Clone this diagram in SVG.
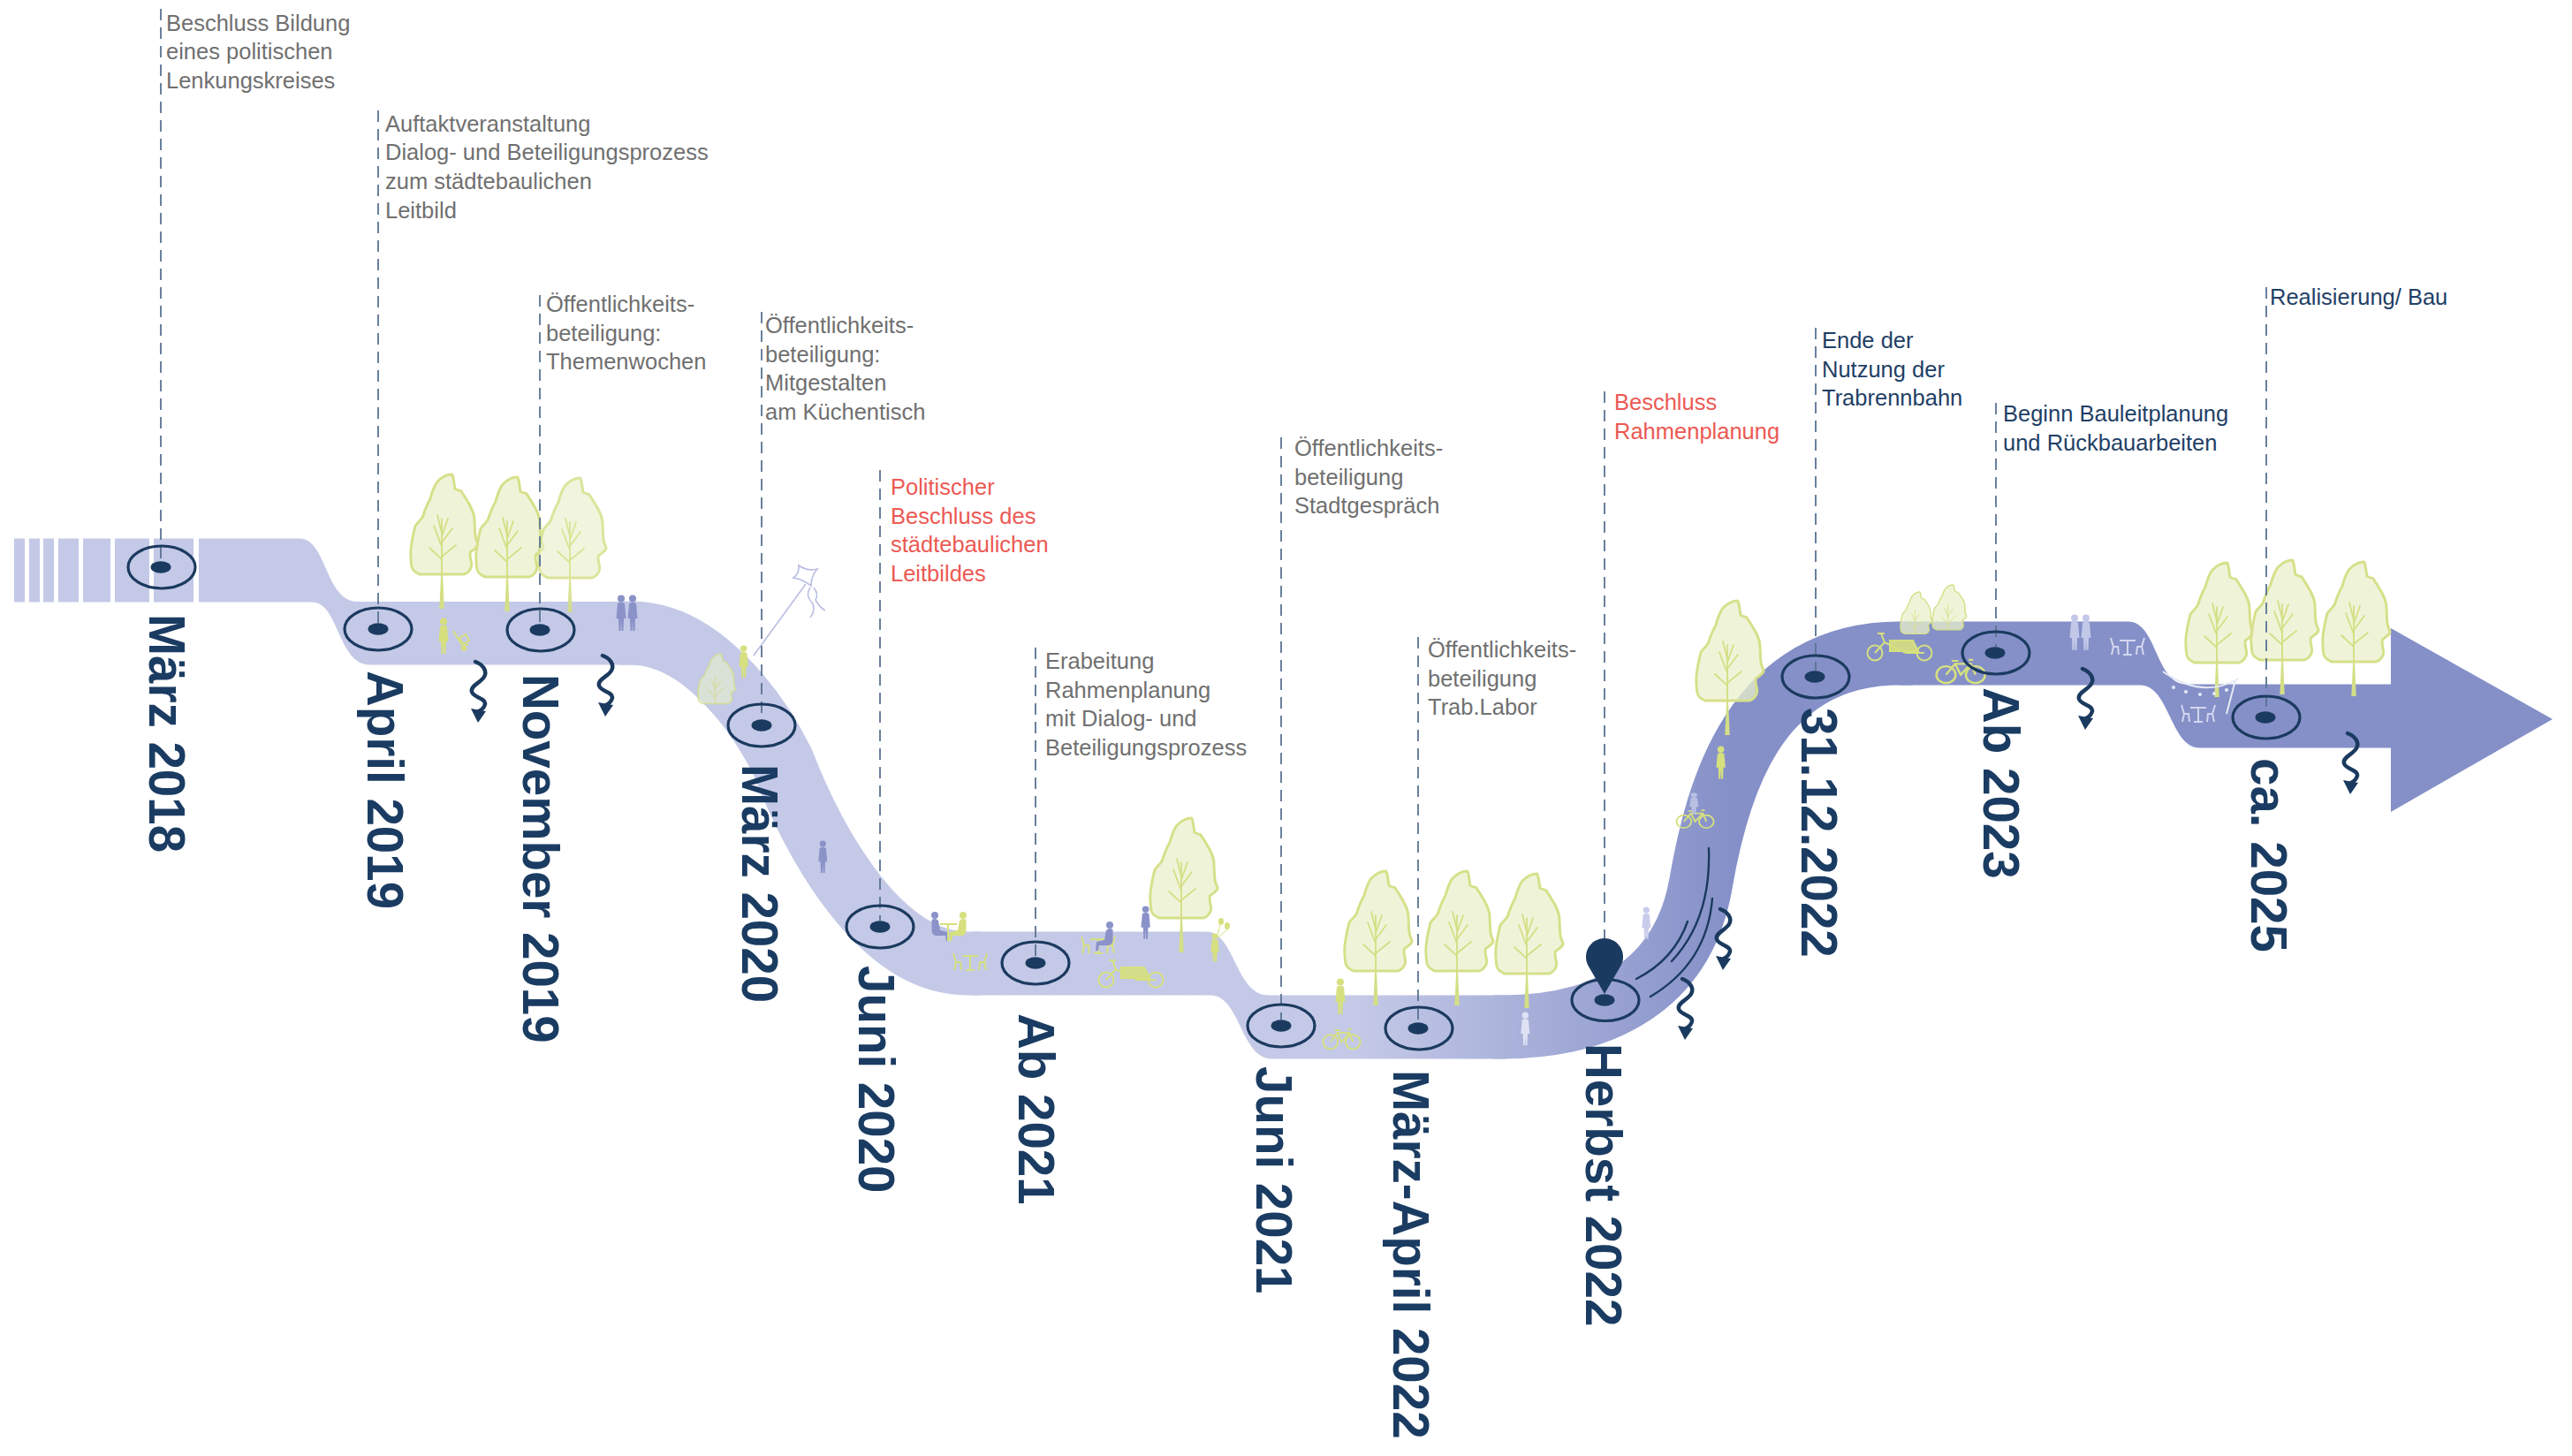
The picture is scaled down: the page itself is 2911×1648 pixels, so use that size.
<svg xmlns="http://www.w3.org/2000/svg" width="2911" height="1648" viewBox="0 0 2911 1648">
<style>
  .lead{fill:none;stroke:#5a7392;stroke-width:1.8;stroke-dasharray:13 8}
  .ring{fill:none;stroke:#1b3a5f;stroke-width:3.2}
  .dot{fill:#1b3a5f}
  .date{font-family:"Liberation Sans",Arial,Helvetica,sans-serif;font-weight:700;font-size:56.5px;fill:#1b3c62}
  .note{font-family:"Liberation Sans",Arial,Helvetica,sans-serif;font-size:25.5px}
  .grey{fill:#707070}
  .red{fill:#ec5953}
  .navy{fill:#1f3f66}
  .wave{fill:none;stroke:#1b3a5f;stroke-width:4.5;stroke-linecap:round}
  .swoosh{fill:none;stroke:#1b3a5f;stroke-width:2.4;stroke-linecap:round}
  .canopy{fill:#e9f0cc;fill-opacity:0.75;stroke:#d6e08a;stroke-width:3;stroke-linejoin:round}
  .branch{fill:none;stroke:#d4df85;stroke-width:1.8;stroke-linecap:round}
  .bandfill{fill:url(#bandGrad)}
  .bandstroke{fill:none;stroke:url(#bandGrad);stroke-width:72}
</style>
<defs>
  <linearGradient id="bandGrad" gradientUnits="userSpaceOnUse" x1="1540" y1="0" x2="1960" y2="0">
    <stop offset="0" stop-color="#c4c9e7"/>
    <stop offset="1" stop-color="#8590c8"/>
  </linearGradient>
  <!-- poplar-like tree: canopy 77 wide, trunk base at y=152 -->
  <path id="crown" d="M46.7,0 C49,5 49,12 50,16.3 C53,18 55,18 56.7,18.7 C61,25 64,30 66.7,34.7 C69,39 71,44 71.7,48 C72.5,56 72,64 73.3,71.3 C74,75 76,77 76,79.7 C75,84 70,85 67.3,88 C66,94 69,98 68.7,103 C68,108 64,112 60,113 L10,113 C5,111 1,107 0.7,103 C0,97 -0.5,91 0,85 C1,75 3,66 5,58.3 C8,54 11,52 13.3,48.3 C16,40 18,34 21.7,28.3 C24,20 26,13 30,8.3 C35,3 41,0 46.7,0 Z"/>
  <g id="tree">
    <use href="#crown" class="canopy"/>
    <path d="M32.3,152 L37.7,152 L36,112 L35.2,58 L34.2,112 Z" fill="#d4df85"/>
    <path class="branch" d="M35,112 V50 M35,96 L21,83 M35,93 L51,80 M35,82 L26,58 M35,77 L47,61 M35,66 L30,46 M35,70 L42,50"/>
  </g>
  <g id="bush">
    <use href="#crown" class="canopy"/>
    <path class="branch" d="M35,113 V50 M35,100 L20,80 M35,96 L52,78 M35,82 L27,58 M35,78 L46,60"/>
  </g>
  <!-- figures -->
  <g id="person"><circle cx="7" cy="4.5" r="4"/><path d="M3,10 Q7,7.5 11,10 L12.5,27 L10,27 L9.5,41 L7.5,41 L7,29 L6.5,41 L4.5,41 L4,27 L1.5,27 Z"/></g>
  <g id="sitter"><circle cx="6" cy="4" r="4"/><path d="M2.5,9 Q7,6.5 10,10 L12,21 L21,23 L22,33 L19,33 L18,27 L7,27 Q2.5,26 2.5,20 Z"/></g>
  <g id="bike" fill="none" stroke-width="2"><circle cx="9" cy="14" r="8.5"/><circle cx="35" cy="14" r="8.5"/><path d="M9,14 L17,3 L31,3 L35,14 M17,3 L22,14 L31,3 M14,0 H20 M29,-1 L33,-1"/></g>
  <g id="cargo" stroke-width="2"><circle cx="9" cy="24" r="8.5" fill="none"/><circle cx="65" cy="24" r="8.5" fill="none"/><path d="M9,24 L20,12 L44,24 M20,12 L16,2 M12,2 H20 M44,24 L65,24" fill="none"/><path d="M26,10 L52,10 L58,22 L26,22 Z" fill-opacity="0.9"/></g>
  <g id="cafe" fill="none" stroke-width="2"><path d="M12,6 H30 M21,6 V22 M16,22 H26 M2,3 L5,13 H10 L11,22 M5,13 L3,22 M40,3 L37,13 H32 L31,22 M37,13 L39,22"/></g>
  <!-- squiggle arrow pointing down -->
  <g id="wiggle"><path class="wave" d="M0,0 C8,3 14,10 10,17 C6,24 -6,27 -4,34 C-2,41 12,41 11,48 C10,52 6,55 4,56"/><path d="M-5,53 L12,56 L3,69 Z" fill="#1b3a5f"/></g>
</defs>

<rect width="2911" height="1648" fill="#ffffff"/>

<!-- timeline band -->
<g id="connectors">
  <g fill="#c4c9e7">
    <rect x="16" y="609.5" width="12" height="72"/>
    <rect x="33" y="609.5" width="12" height="72"/>
    <rect x="49" y="609.5" width="12" height="72"/>
    <rect x="66" y="609.5" width="23" height="72"/>
    <rect x="94" y="609.5" width="31" height="72"/>
    <rect x="130" y="609.5" width="39" height="72"/>
    <rect x="174" y="609.5" width="45" height="72"/>
  </g>
  <!-- straight runs with their steps -->
  <path class="bandfill" d="M225,609.5 H339 C370,609.5 368,681 405,681 H722 V752.5 H419 C382,752.5 384,681.5 353,681.5 H225 Z"/>
  <path class="bandfill" d="M1100,1054.5 H1365 C1398,1054.5 1398,1126.5 1436,1126.5 H1705 V1198.5 H1440 C1404,1198.5 1404,1126.5 1370,1126.5 H1100 Z"/>
  <path class="bandfill" d="M2150,703.5 H2409 C2441,703.5 2440,774.5 2474,774.5 H2706 V711 L2889,814 L2706,919 V846.5 H2490 C2456,846.5 2456,775.5 2422,775.5 H2150 Z"/>
  <!-- sweeping bends -->
  <path class="bandstroke" d="M700,716.5 H715 C790,716.5 855,800 886,863 C910,925 985,1090.5 1095,1090.5 H1110"/>
  <path class="bandstroke" d="M1690,1162.5 H1700 C1815,1162.5 1905,1115 1925,1000 C1943,895 1985,739.5 2150,739.5 H2165"/>
</g>

<!-- scenery: trees, people, bikes -->
<g id="scenery">
  <use href="#tree" transform="translate(465,537)"/>
  <use href="#tree" transform="translate(539,540)"/>
  <use href="#tree" transform="translate(610,541)" opacity="0.85"/>
  <use href="#tree" transform="translate(1302,926)"/>
  <use href="#tree" transform="translate(1522,986)"/>
  <use href="#tree" transform="translate(1614,986)"/>
  <use href="#tree" transform="translate(1693,989)"/>
  <use href="#tree" transform="translate(1920,680)"/>
  <use href="#tree" transform="translate(2474,637)"/>
  <use href="#tree" transform="translate(2548,634)"/>
  <use href="#tree" transform="translate(2629,636)"/>
  <use href="#bush" transform="translate(2151,670) scale(0.47,0.42)"/>
  <use href="#bush" transform="translate(2187,662) scale(0.51,0.45)"/>
  <use href="#bush" transform="translate(790,740) scale(0.56,0.5)" opacity="0.8"/>

  <!-- April / November 2019 -->
  <use href="#person" fill="#d6e07f" transform="translate(495,699)"/>
  <g fill="none" stroke="#d6e07f" stroke-width="2"><path d="M513,714 L524,732 L530,729 M520,722 l7,-4 l4,7 l-7,4 z"/><circle cx="525" cy="734" r="2" fill="#d6e07f"/></g>
  <use href="#person" fill="#8a92c8" transform="translate(696,673)"/>
  <use href="#person" fill="#8a92c8" transform="translate(709,673)"/>

  <!-- März 2020 -->
  <use href="#person" fill="#d6e07f" transform="translate(835,730) scale(0.95,0.9)"/>
  <g fill="none" stroke="#b8bee2" stroke-width="1.6">
    <path d="M853,742 L912,661"/>
    <path d="M898,654 Q905,649 904,640 Q914,647 925,644 Q918,652 918,663 Q909,656 898,654 Z"/>
    <path d="M917,665 q-6,9 2,17 q5,8 -2,17 M921,665 q6,8 2,14 q5,9 11,12"/>
  </g>
  <use href="#person" fill="#8a92c8" transform="translate(925,951) scale(0.9)"/>

  <!-- Juni 2020 / Ab 2021 -->
  <use href="#sitter" fill="#8a92c8" transform="translate(1052,1032)"/>
  <use href="#sitter" fill="#d6e07f" transform="translate(1096,1032) scale(-1,1)"/>
  <path d="M1064,1046 H1083 M1073,1046 V1065" stroke="#d6e07f" stroke-width="2" fill="none"/>
  <use href="#cafe" stroke="#d6e07f" transform="translate(1077,1076)"/>
  <use href="#cafe" stroke="#d6e07f" transform="translate(1222,1057)"/>
  <use href="#sitter" fill="#8a92c8" transform="translate(1262,1043) scale(-1,1)"/>
  <use href="#person" fill="#8a92c8" transform="translate(1290,1025) scale(0.95,0.92)"/>
  <use href="#cargo" stroke="#d6e07f" fill="#d6e07f" transform="translate(1243,1085)"/>
  <use href="#person" fill="#d6e07f" transform="translate(1369,1056) scale(0.85,0.8)"/>
  <g fill="#d6e07f"><ellipse cx="1382" cy="1043" rx="3" ry="4"/><ellipse cx="1389" cy="1048" rx="3" ry="4"/><path d="M1381,1047 L1377,1062 M1389,1052 L1378,1062" stroke="#d6e07f" stroke-width="1"/></g>

  <!-- Juni 2021 / Herbst 2022 -->
  <use href="#person" fill="#d6e07f" transform="translate(1510,1107)"/>
  <use href="#bike" stroke="#d6e07f" transform="translate(1497,1166) scale(0.98,0.95)"/>
  <use href="#person" fill="#dfe2f3" transform="translate(1720,1145) scale(0.9,0.93)"/>
  <use href="#person" fill="#c9cdeb" transform="translate(1857,1026) scale(0.9)"/>
  <use href="#person" fill="#d6e07f" transform="translate(1941,844) scale(0.95,0.92)"/>
  <use href="#bike" stroke="#d6e07f" transform="translate(1897,918) scale(0.98,0.85)"/>
  <use href="#person" fill="#b9c0e4" transform="translate(1911,897) scale(0.9,0.6)"/>

  <!-- 2023 / 2025 -->
  <use href="#cargo" stroke="#d6e07f" fill="#d6e07f" transform="translate(2113,715)"/>
  <use href="#bike" stroke="#d6e07f" transform="translate(2191,748) scale(1.28,1.12)"/>
  <use href="#person" fill="#c2c8e8" transform="translate(2341,695)"/>
  <use href="#person" fill="#c2c8e8" transform="translate(2354,695)"/>
  <use href="#cafe" stroke="#d3d7ef" transform="translate(2387,719)"/>
  <g fill="none" stroke="#e6e9f6" stroke-width="2"><path d="M2448,760 Q2492,792 2534,768"/><path d="M2530,770 L2520,808"/></g>
  <g fill="#e6e9f6"><circle cx="2460" cy="778" r="2"/><circle cx="2474" cy="783" r="2"/><circle cx="2490" cy="786" r="2"/><circle cx="2506" cy="785" r="2"/><circle cx="2520" cy="781" r="2"/></g>
  <use href="#cafe" stroke="#d3d7ef" transform="translate(2467,795)"/>
</g>

<!-- squiggle arrows and motion strokes -->
<g id="marks">
  <use href="#wiggle" transform="translate(538,749)"/>
  <use href="#wiggle" transform="translate(682,742)"/>
  <use href="#wiggle" transform="translate(1947,1029)"/>
  <use href="#wiggle" transform="translate(1904,1108)"/>
  <use href="#wiggle" transform="translate(2357,757)"/>
  <use href="#wiggle" transform="translate(2657,830)"/>
  <path class="swoosh" d="M1852,1108 Q1895,1086 1910,1043"/>
  <path class="swoosh" d="M1892,1088 Q1937,1040 1934,960"/>
  <path class="swoosh" d="M1868,1128 Q1932,1090 1938,1017"/>
</g>

<!-- milestones -->
<g id="m-2018-03">
  <line class="lead" x1="182" y1="10" x2="182" y2="635"/>
  <ellipse class="ring" cx="183" cy="642" rx="38" ry="24"/>
  <ellipse class="dot" cx="182" cy="642" rx="11.5" ry="6.8"/>
  <text class="date" transform="translate(169,695) rotate(90)">März 2018</text>
  <text class="note grey"><tspan x="188" y="34.5">Beschluss Bildung</tspan><tspan x="188" y="67.2">eines politischen</tspan><tspan x="188" y="99.9">Lenkungskreises</tspan></text>
</g>
<g id="m-2019-04">
  <line class="lead" x1="428" y1="125" x2="428" y2="705"/>
  <ellipse class="ring" cx="428" cy="712" rx="38" ry="24"/>
  <ellipse class="dot" cx="428" cy="712" rx="11.5" ry="6.8"/>
  <text class="date" transform="translate(416,759) rotate(90)">April 2019</text>
  <text class="note grey"><tspan x="436" y="148.5">Auftaktveranstaltung</tspan><tspan x="436" y="181.2">Dialog- und Beteiligungsprozess</tspan><tspan x="436" y="213.9">zum städtebaulichen</tspan><tspan x="436" y="246.6">Leitbild</tspan></text>
</g>
<g id="m-2019-11">
  <line class="lead" x1="611" y1="334" x2="611" y2="706"/>
  <ellipse class="ring" cx="612" cy="713" rx="38" ry="24"/>
  <ellipse class="dot" cx="611" cy="713" rx="11.5" ry="6.8"/>
  <text class="date" transform="translate(592,763) rotate(90)">November 2019</text>
  <text class="note grey"><tspan x="618" y="353">Öffentlichkeits-</tspan><tspan x="618" y="385.7">beteiligung:</tspan><tspan x="618" y="418.4">Themenwochen</tspan></text>
</g>
<g id="m-2020-03">
  <line class="lead" x1="862" y1="353" x2="862" y2="814"/>
  <ellipse class="ring" cx="862" cy="821" rx="38" ry="24"/>
  <ellipse class="dot" cx="862" cy="821" rx="11.5" ry="6.8"/>
  <text class="date" transform="translate(840,865) rotate(90)">März 2020</text>
  <text class="note grey"><tspan x="866" y="377">Öffentlichkeits-</tspan><tspan x="866" y="409.7">beteiligung:</tspan><tspan x="866" y="442.4">Mitgestalten</tspan><tspan x="866" y="475.1">am Küchentisch</tspan></text>
</g>
<g id="m-2020-06">
  <line class="lead" x1="996" y1="532" x2="996" y2="1042"/>
  <ellipse class="ring" cx="996" cy="1049" rx="38" ry="24"/>
  <ellipse class="dot" cx="996" cy="1049" rx="11.5" ry="6.8"/>
  <text class="date" transform="translate(972,1093) rotate(90)">Juni 2020</text>
  <text class="note red"><tspan x="1008" y="560">Politischer</tspan><tspan x="1008" y="592.7">Beschluss des</tspan><tspan x="1008" y="625.4">städtebaulichen</tspan><tspan x="1008" y="658.1">Leitbildes</tspan></text>
</g>
<g id="m-2021-ab">
  <line class="lead" x1="1172" y1="733" x2="1172" y2="1083"/>
  <ellipse class="ring" cx="1172" cy="1090" rx="38" ry="24"/>
  <ellipse class="dot" cx="1172" cy="1090" rx="11.5" ry="6.8"/>
  <text class="date" transform="translate(1153,1147) rotate(90)">Ab 2021</text>
  <text class="note grey"><tspan x="1183" y="757">Erabeitung</tspan><tspan x="1183" y="789.7">Rahmenplanung</tspan><tspan x="1183" y="822.4">mit Dialog- und</tspan><tspan x="1183" y="855.1">Beteiligungsprozess</tspan></text>
</g>
<g id="m-2021-06">
  <line class="lead" x1="1450" y1="495" x2="1450" y2="1154"/>
  <ellipse class="ring" cx="1450" cy="1161" rx="38" ry="24"/>
  <ellipse class="dot" cx="1450" cy="1161" rx="11.5" ry="6.8"/>
  <text class="date" transform="translate(1422,1207) rotate(90)">Juni 2021</text>
  <text class="note grey"><tspan x="1465" y="516">Öffentlichkeits-</tspan><tspan x="1465" y="548.7">beteiligung</tspan><tspan x="1465" y="581.4">Stadtgespräch</tspan></text>
</g>
<g id="m-2022-03">
  <line class="lead" x1="1605" y1="721" x2="1605" y2="1157"/>
  <ellipse class="ring" cx="1606" cy="1164" rx="38" ry="24"/>
  <ellipse class="dot" cx="1605" cy="1164" rx="11.5" ry="6.8"/>
  <text class="date" transform="translate(1577,1211) rotate(90)">März-April 2022</text>
  <text class="note grey"><tspan x="1616" y="744">Öffentlichkeits-</tspan><tspan x="1616" y="776.7">beteiligung</tspan><tspan x="1616" y="809.4">Trab.Labor</tspan></text>
</g>
<g id="m-2022-herbst">
  <line class="lead" x1="1816" y1="443" x2="1816" y2="1062"/>
  <ellipse class="ring" cx="1817" cy="1132" rx="38" ry="23.5"/>
  <ellipse class="dot" cx="1816" cy="1132" rx="11.5" ry="6.8"/>
  <path d="M1816,1125 L1797.8,1093.5 A21,21 0 1 1 1834.2,1093.5 Z" fill="#1b3a5f"/>
  <text class="date" transform="translate(1795,1181) rotate(90)">Herbst 2022</text>
  <text class="note red"><tspan x="1827" y="464">Beschluss</tspan><tspan x="1827" y="496.7">Rahmenplanung</tspan></text>
</g>
<g id="m-2022-12">
  <line class="lead" x1="2055" y1="371" x2="2055" y2="759"/>
  <ellipse class="ring" cx="2055" cy="766" rx="38" ry="24"/>
  <ellipse class="dot" cx="2054" cy="766" rx="11.5" ry="6.8"/>
  <text class="date" transform="translate(2039,801) rotate(90)">31.12.2022</text>
  <text class="note navy"><tspan x="2062" y="394">Ende der</tspan><tspan x="2062" y="426.7">Nutzung der</tspan><tspan x="2062" y="459.4">Trabrennbahn</tspan></text>
</g>
<g id="m-2023-ab">
  <line class="lead" x1="2259" y1="456" x2="2259" y2="732"/>
  <ellipse class="ring" cx="2259" cy="739" rx="38" ry="24"/>
  <ellipse class="dot" cx="2258" cy="739" rx="11.5" ry="6.8"/>
  <text class="date" transform="translate(2245,778) rotate(90)">Ab 2023</text>
  <text class="note navy"><tspan x="2267" y="477">Beginn Bauleitplanung</tspan><tspan x="2267" y="509.7">und Rückbauarbeiten</tspan></text>
</g>
<g id="m-2025">
  <line class="lead" x1="2565" y1="325" x2="2565" y2="805"/>
  <ellipse class="ring" cx="2565" cy="812" rx="38" ry="24"/>
  <ellipse class="dot" cx="2564" cy="812" rx="11.5" ry="6.8"/>
  <text class="date" transform="translate(2548,858) rotate(90)">ca. 2025</text>
  <text class="note navy"><tspan x="2569" y="345">Realisierung/ Bau</tspan></text>
</g>
</svg>
